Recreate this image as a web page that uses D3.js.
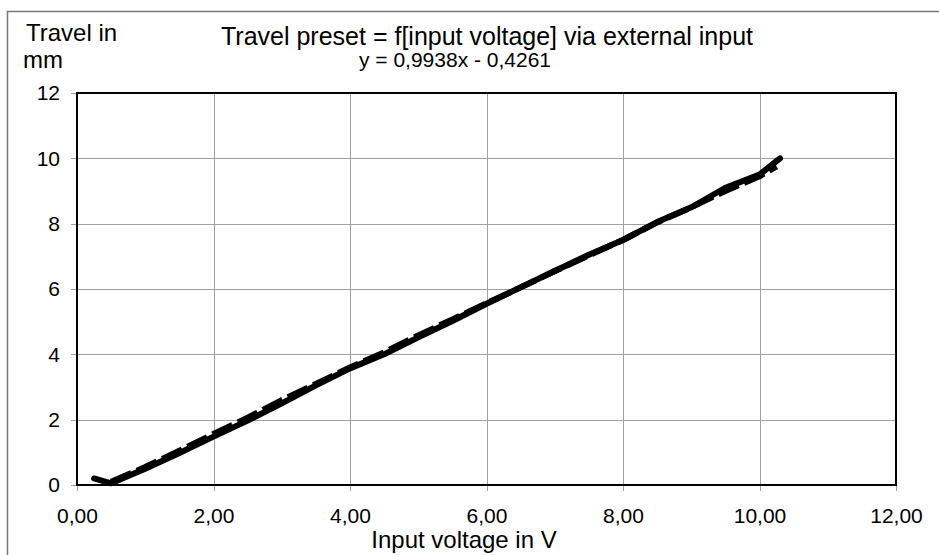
<!DOCTYPE html>
<html lang="en">
<head>
    <meta charset="UTF-8">
    <title>Travel preset = f[input voltage] via external input</title>
    <style>
        body { margin: 0; background: #fff; }
        svg { display: block; font-family: "Liberation Sans", Arial, sans-serif; }
        .grid line { stroke: #a0a0a0; stroke-width: 1px; shape-rendering: crispEdges; }
        .axis path { display: none; }
        .axis line { stroke: #a0a0a0; shape-rendering: crispEdges; }
        .axis text { font-size: 21px; fill: #000; }
        .measured { fill: none; stroke: #000; stroke-width: 6px; stroke-linejoin: round; stroke-linecap: round; }
        .measured2 { fill: none; stroke: #000; stroke-width: 6px; stroke-dasharray: 22, 6; stroke-linejoin: round; }
    </style>
    <script src="https://d3js.org/d3.v7.min.js"></script>
</head>
<body>
    <div id="graph"></div>
    <script>
        // measured travel (solid)
        const voltageA = [0.25, 0.5, 1, 1.5, 2, 2.5, 3, 3.5, 4, 4.5, 5, 5.5, 6, 6.5, 7, 7.5, 8, 8.5, 9, 9.5, 10, 10.3];
        const travelA = [0.2, 0.05, 0.5, 0.98, 1.48, 1.97, 2.5, 3.05, 3.57, 4.0, 4.52, 5.02, 5.55, 6.05, 6.55, 7.05, 7.5, 8.05, 8.5, 9.1, 9.5, 10.0];
        // second run (dashed)
        const voltageB = [0.5, 1, 1.5, 2, 2.5, 3, 3.5, 4, 4.5, 5, 5.5, 6, 6.5, 7, 7.5, 8, 8.5, 9, 9.5, 10, 10.25];
        const travelB = [0.1, 0.55, 1.05, 1.56, 2.06, 2.6, 3.09, 3.6, 4.06, 4.58, 5.07, 5.56, 6.05, 6.55, 7.03, 7.5, 8.04, 8.5, 9.0, 9.45, 9.75];

        const xTicks = [0, 2, 4, 6, 8, 10, 12];
        const yTicks = [0, 2, 4, 6, 8, 10, 12];

        const width = 939;
        const height = 555;
        const margins = { top: 93, bottom: 70, left: 77, right: 43 };

        const svg = d3.select("#graph").append("svg")
            .attr("width", width)
            .attr("height", height);

        // outer chart frame
        svg.append("rect")
            .attr("x", 7.5)
            .attr("y", 11.5)
            .attr("width", width)
            .attr("height", height)
            .attr("fill", "none")
            .attr("stroke", "#777")
            .attr("stroke-width", 1.5);

        const xScale = d3.scaleLinear()
            .domain([0, 12])
            .range([margins.left, width - margins.right]);

        const yScale = d3.scaleLinear()
            .domain([0, 12])
            .range([height - margins.bottom, margins.top]);

        // grid
        const grid = svg.append("g").attr("class", "grid");
        grid.selectAll(".vx")
            .data(xTicks.slice(1, -1))
            .enter().append("line")
            .attr("x1", d => Math.round(xScale(d)) + 0.5)
            .attr("x2", d => Math.round(xScale(d)) + 0.5)
            .attr("y1", yScale(12))
            .attr("y2", yScale(0));
        grid.selectAll(".hy")
            .data(yTicks.slice(1, -1))
            .enter().append("line")
            .attr("y1", d => Math.round(yScale(d)) + 0.5)
            .attr("y2", d => Math.round(yScale(d)) + 0.5)
            .attr("x1", xScale(0))
            .attr("x2", xScale(12));

        const xAxis = d3.axisBottom(xScale)
            .tickValues(xTicks)
            .tickFormat(d => d3.format(".2f")(d).replace(".", ","))
            .tickSize(6)
            .tickPadding(17);
        const yAxis = d3.axisLeft(yScale)
            .tickValues(yTicks)
            .tickSize(6)
            .tickPadding(11);

        svg.append("g")
            .attr("class", "axis")
            .attr("transform", `translate(0, ${yScale(0)})`)
            .call(xAxis);

        svg.append("g")
            .attr("class", "axis")
            .attr("transform", `translate(${xScale(0)}, 0)`)
            .call(yAxis);

        // plot border
        svg.append("rect")
            .attr("x", xScale(0))
            .attr("y", yScale(12))
            .attr("width", xScale(12) - xScale(0))
            .attr("height", yScale(0) - yScale(12))
            .attr("fill", "none")
            .attr("stroke", "#000")
            .attr("stroke-width", 2);

        const lineGen = d3.line()
            .x(d => xScale(d[0]))
            .y(d => yScale(d[1]));

        svg.append("path")
            .datum(d3.zip(voltageB, travelB))
            .attr("class", "measured2")
            .attr("d", lineGen);

        svg.append("path")
            .datum(d3.zip(voltageA, travelA))
            .attr("class", "measured")
            .attr("d", lineGen);

        // titles
        svg.append("text")
            .attr("x", 487)
            .attr("y", 45)
            .attr("text-anchor", "middle")
            .style("font-size", "25px")
            .text("Travel preset = f[input voltage] via external input");

        svg.append("text")
            .attr("x", 455)
            .attr("y", 67)
            .attr("text-anchor", "middle")
            .style("font-size", "21px")
            .text("y = 0,9938x - 0,4261");

        svg.append("text")
            .attr("x", 26)
            .attr("y", 41)
            .style("font-size", "24px")
            .text("Travel in");

        svg.append("text")
            .attr("x", 23)
            .attr("y", 68)
            .style("font-size", "24px")
            .text("mm");

        svg.append("text")
            .attr("x", 464)
            .attr("y", 548)
            .attr("text-anchor", "middle")
            .style("font-size", "24px")
            .text("Input voltage in V");
    </script>
</body>
</html>
